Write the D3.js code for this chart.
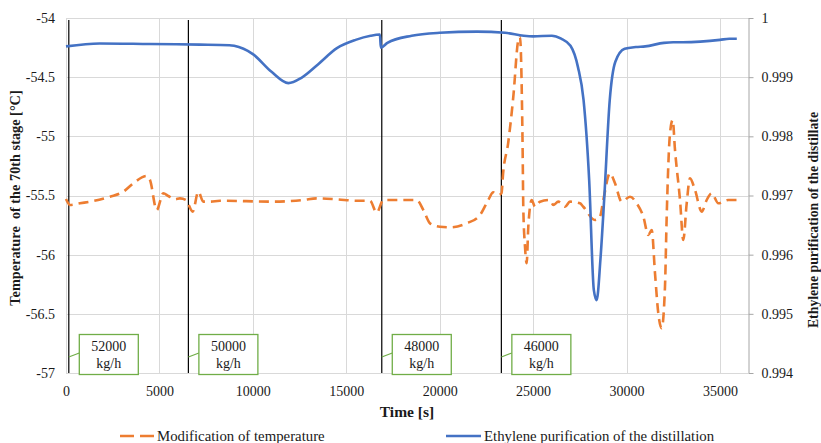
<!DOCTYPE html>
<html>
<head>
<meta charset="utf-8">
<script src="https://cdn.jsdelivr.net/npm/d3@7"></script>
<style>
  body { margin: 0; background: #fff; }
  text { font-family: "Liberation Serif", "Times New Roman", serif; fill: #1a1a1a; }
</style>
</head>
<body>
<div id="main"></div>
<script>
// orange series: temperature of the 70th stage (left axis)
var tempTime = [0, 214, 749, 1461, 2355, 3067, 3602, 4319, 4496, 4854, 5207, 5475, 5833, 6101, 6422, 6781, 7080, 7348, 7707, 8242, 11095,
  11988, 12700, 13417, 14488, 15558, 16270, 16628, 16982, 18769, 19127, 19481, 20016, 20552, 21445, 22157, 22601, 22869, 23137,
  23308, 23394, 23662, 23940, 24206, 24297, 24388, 24441, 24473, 24565, 24655, 24742, 24924, 25100, 25368, 25903, 26080, 26348, 26706, 26973,
  27509, 27685, 28311, 28579, 28757, 29114, 29382, 29740, 30184, 30543, 30899, 31166, 31347, 31523, 31700, 31881, 32057, 32148, 32326, 32470,
  32593, 32861, 33037, 33219, 33396, 33664, 34023, 34289, 34557, 34912, 35446, 35895];
var tempValue = [-55.53, -55.58, -55.566, -55.547, -55.51, -55.468, -55.397, -55.335, -55.369, -55.623, -55.481, -55.504, -55.532, -55.524, -55.538, -55.637, -55.468, -55.552, -55.552, -55.544, -55.552,
  -55.547, -55.538, -55.524, -55.532, -55.544, -55.544, -55.645, -55.538, -55.538, -55.623, -55.735, -55.764, -55.769, -55.735, -55.665, -55.538, -55.473, -55.496,
  -55.481, -55.312, -55.059, -54.665, -54.186, -54.158, -54.581, -55.143, -55.595, -55.933, -56.073, -55.764, -55.538, -55.595, -55.552, -55.538, -55.58, -55.552, -55.595, -55.552,
  -55.566, -55.595, -55.707, -55.679, -55.538, -55.312, -55.397, -55.552, -55.51, -55.566, -55.679, -55.834, -55.792, -56.158, -56.496, -56.622, -56.271, -55.679, -54.974, -54.862,
  -55.115, -55.538, -55.876, -55.566, -55.355, -55.454, -55.637, -55.538, -55.481, -55.566, -55.538, -55.538];

// blue series: ethylene purity of the distillate (right axis)
var purTime = [0, 1800, 4480, 7150, 8750, 9000, 10000, 11000, 11900, 12600, 13500, 14500, 15500, 16300, 16800, 16850, 17200, 18500, 20000, 22000,
  23500, 24500, 25000, 26000, 26500, 27000, 27400, 27700, 28000, 28250, 28400, 28600, 28800, 29100, 29400, 29900, 30500, 31000, 32000, 32500,
  33000, 35000, 35500, 35900];
var purValue = [0.99952, 0.99957, 0.99956, 0.99955, 0.99954, 0.99953, 0.99939, 0.99909, 0.9989, 0.99899, 0.99922, 0.99949, 0.99963, 0.9997, 0.99972, 0.9995, 0.99958, 0.9997, 0.99975, 0.99977,
  0.99975, 0.9997, 0.99969, 0.9997, 0.99965, 0.99953, 0.99917, 0.99861, 0.99726, 0.9954, 0.99523, 0.99591, 0.99692, 0.99861, 0.99926, 0.99948, 0.99951, 0.99952, 0.99958, 0.99959,
  0.99959, 0.99963, 0.99965, 0.99965];

// feed flow changes
var stepTime = [150, 6550, 16900, 23300];
var stepLabel = ["52000", "50000", "48000", "46000"];

var xTicks = [0, 5000, 10000, 15000, 20000, 25000, 30000, 35000];
var leftTicks = [-54, -54.5, -55, -55.5, -56, -56.5, -57];
var rightTicks = [1, 0.999, 0.998, 0.997, 0.996, 0.995, 0.994];

var width = 821, height = 443;
var plot = {left: 66, right: 748, top: 18, bottom: 373};

var svg = d3.select("#main").append("svg")
    .attr("width", width)
    .attr("height", height);

var x = d3.scaleLinear().domain([0, 36500]).range([plot.left, plot.right]);
var yL = d3.scaleLinear().domain([-57, -54]).range([plot.bottom, plot.top]);
var yR = d3.scaleLinear().domain([0.994, 1]).range([plot.bottom, plot.top]);

// grid
svg.append("g").selectAll("line").data(leftTicks).enter().append("line")
    .attr("x1", plot.left).attr("x2", plot.right)
    .attr("y1", function(d){ return Math.round(yL(d)) + 0.5; })
    .attr("y2", function(d){ return Math.round(yL(d)) + 0.5; })
    .attr("stroke", "#d9d9d9").attr("stroke-width", 1);

svg.append("g").selectAll("line").data(xTicks).enter().append("line")
    .attr("x1", function(d){ return Math.round(x(d)) + 0.5; })
    .attr("x2", function(d){ return Math.round(x(d)) + 0.5; })
    .attr("y1", plot.top).attr("y2", plot.bottom)
    .attr("stroke", "#d9d9d9").attr("stroke-width", 1);

// axes
var xAxis = svg.append("g")
    .attr("transform", "translate(0," + (plot.bottom + 10) + ")")
    .call(d3.axisBottom(x).tickValues(xTicks).tickSize(0).tickFormat(d3.format("d")));
xAxis.select(".domain").remove();
xAxis.selectAll("text").style("font-size", "14px").attr("font-family", null);

var leftAxis = svg.append("g")
    .attr("transform", "translate(" + (plot.left - 8) + ",0)")
    .call(d3.axisLeft(yL).tickValues(leftTicks).tickSize(0).tickFormat(function(d){ return String(d); }));
leftAxis.select(".domain").remove();
leftAxis.selectAll("text").style("font-size", "14px").attr("font-family", null);

var rightAxis = svg.append("g")
    .attr("transform", "translate(" + (plot.right + 0.5) + ",0)")
    .call(d3.axisRight(yR).tickValues(rightTicks).tickSize(5).tickPadding(8).tickFormat(function(d){ return String(d); }));
rightAxis.select(".domain").attr("stroke", "#a6a6a6").attr("d", "M0.5," + plot.top + "V" + plot.bottom);
rightAxis.selectAll(".tick line").attr("stroke", "#a6a6a6");
rightAxis.selectAll("text").style("font-size", "14px").attr("font-family", null);

// step lines
svg.append("g").selectAll("line").data(stepTime).enter().append("line")
    .attr("x1", function(d){ return x(d); }).attr("x2", function(d){ return x(d); })
    .attr("y1", plot.top + 2).attr("y2", plot.bottom)
    .attr("stroke", "#000").attr("stroke-width", 1.2);

// series
var tempData = tempTime.map(function(t, i){ return [t, tempValue[i]]; });
var purData = purTime.map(function(t, i){ return [t, purValue[i]]; });

svg.append("path").datum(tempData)
    .attr("fill", "none").attr("stroke", "#ED7D31").attr("stroke-width", 2.6)
    .attr("stroke-dasharray", "10,6")
    .attr("d", d3.line().curve(d3.curveMonotoneX)
      .x(function(d){ return x(d[0]); }).y(function(d){ return yL(d[1]); }));

svg.append("path").datum(purData)
    .attr("fill", "none").attr("stroke", "#4472C4").attr("stroke-width", 2.6)
    .attr("d", d3.line().curve(d3.curveMonotoneX)
      .x(function(d){ return x(d[0]); }).y(function(d){ return yR(d[1]); }));

// callouts
var boxes = svg.append("g").selectAll("g").data(stepTime).enter().append("g")
    .attr("transform", function(d){ return "translate(" + x(d) + ",0)"; });
boxes.append("line")
    .attr("x1", 0).attr("y1", 357).attr("x2", 10.5).attr("y2", 353)
    .attr("stroke", "#70AD47").attr("stroke-width", 1.2);
boxes.append("rect")
    .attr("x", 10.5).attr("y", 334.5).attr("width", 59).attr("height", 40)
    .attr("fill", "#fff").attr("stroke", "#70AD47").attr("stroke-width", 1.3);
boxes.append("text")
    .attr("x", 40).attr("y", 351).attr("text-anchor", "middle").style("font-size", "14px")
    .text(function(d, i){ return stepLabel[i]; });
boxes.append("text")
    .attr("x", 40).attr("y", 368).attr("text-anchor", "middle").style("font-size", "14px")
    .text("kg/h");

// titles
svg.append("text")
    .attr("x", 407).attr("y", 417)
    .attr("text-anchor", "middle").style("font-size", "15.5px").style("font-weight", "bold")
    .text("Time [s]");

svg.append("text")
    .attr("transform", "translate(20,198) rotate(-90)")
    .attr("text-anchor", "middle").style("font-size", "14.3px").style("font-weight", "bold")
    .attr("xml:space", "preserve")
    .text("Temperature  of the 70th stage [°C]");

svg.append("text")
    .attr("transform", "translate(818,220) rotate(-90)")
    .attr("text-anchor", "middle").style("font-size", "13.8px").style("font-weight", "bold")
    .text("Ethylene purification of the distillate");

// legend
var legend = svg.append("g").attr("transform", "translate(0,436)");
legend.append("line").attr("x1", 120).attr("x2", 155).attr("y1", 0).attr("y2", 0)
    .attr("stroke", "#ED7D31").attr("stroke-width", 2.6).attr("stroke-dasharray", "14,6");
legend.append("text").attr("x", 157).attr("y", 5).style("font-size", "14.8px")
    .text("Modification of temperature");
legend.append("line").attr("x1", 446).attr("x2", 481).attr("y1", 0).attr("y2", 0)
    .attr("stroke", "#4472C4").attr("stroke-width", 2.6);
legend.append("text").attr("x", 484).attr("y", 5).style("font-size", "14.8px")
    .text("Ethylene purification of the distillation");
</script>
</body>
</html>
